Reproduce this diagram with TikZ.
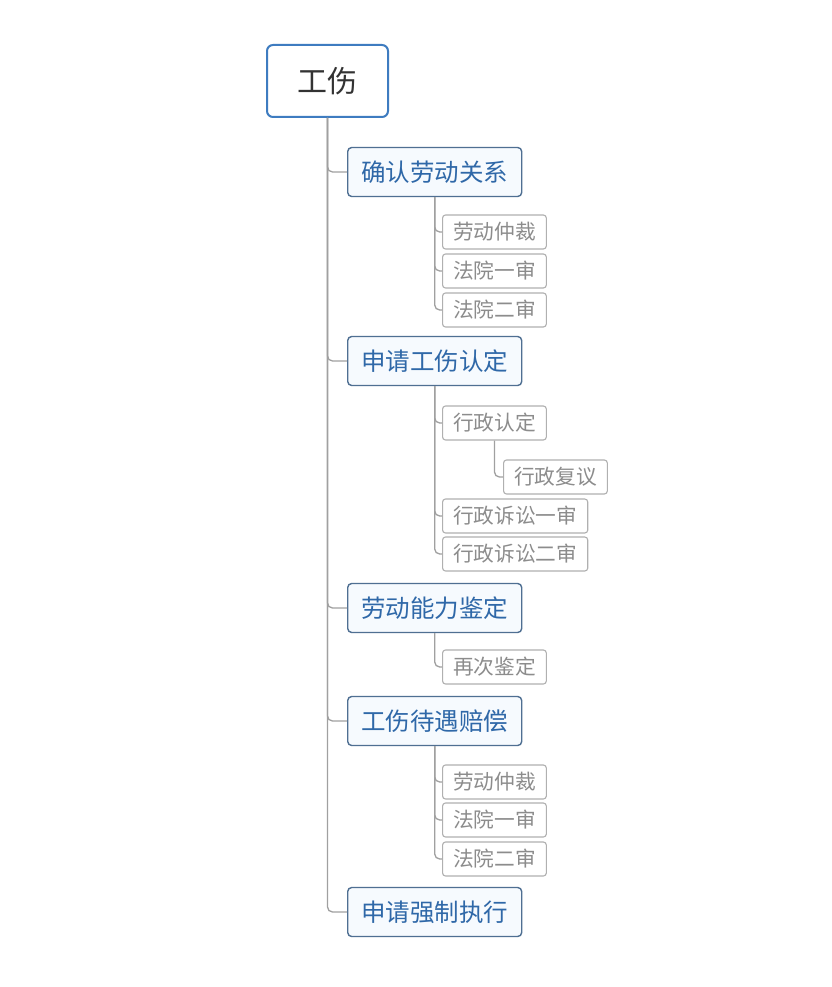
\documentclass[tikz,border=0pt]{standalone}
\usepackage{fontspec}
\setmainfont{Noto Sans CJK SC}
\usetikzlibrary{positioning}
\definecolor{RootLine}{HTML}{3E7CC0}
\definecolor{TopLine}{HTML}{4F6F92}
\definecolor{TopFill}{HTML}{F6FAFE}
\definecolor{TopText}{HTML}{2F68A8}
\definecolor{SubLine}{HTML}{B0B0B0}
\definecolor{SubText}{HTML}{8C8C8C}
\definecolor{Wire}{HTML}{A0A0A0}

\begin{document}
\begin{tikzpicture}[x=1pt,y=-1pt, root/.style={draw=RootLine,line width=2pt,fill=white,rounded corners=6pt,minimum width=121pt,minimum height=72pt,font=\fontsize{30}{30}\selectfont,text=black!80}, topic/.style={draw=TopLine,line width=1.4pt,fill=TopFill,rounded corners=4pt,minimum width=174pt,minimum height=49pt,anchor=west,font=\fontsize{24.5}{24.5}\selectfont,text=TopText}, sub/.style={draw=SubLine,line width=1.1pt,fill=white,rounded corners=3pt,inner xsep=10.5pt,minimum height=34pt,anchor=west,font=\fontsize{20.7}{20.7}\selectfont,text=SubText}, link/.style={draw=Wire,line width=1.3pt,rounded corners=5pt}]
\fill[white] (0,0) rectangle (831,987);
\useasboundingbox (0,0) rectangle (831,987);
\node[root] (R) at (327.5,81) {工伤};
\node[topic] (A) at (347,172) {确认劳动关系};
\node[topic] (B) at (347,361) {申请工伤认定};
\node[topic] (C) at (347,608) {劳动能力鉴定};
\node[topic] (D) at (347,721) {工伤待遇赔偿};
\node[topic] (E) at (347,912) {申请强制执行};
\node[sub] (A1) at (442,232) {劳动仲裁};
\node[sub] (A2) at (442,271) {法院一审};
\node[sub] (A3) at (442,310) {法院二审};
\node[sub] (B1) at (442,423) {行政认定};
\node[sub] (B11) at (503,477) {行政复议};
\node[sub] (B2) at (442,516) {行政诉讼一审};
\node[sub] (B3) at (442,554) {行政诉讼二审};
\node[sub] (C1) at (442,667) {再次鉴定};
\node[sub] (D1) at (442,782) {劳动仲裁};
\node[sub] (D2) at (442,820) {法院一审};
\node[sub] (D3) at (442,859) {法院二审};
\foreach \k in {A,B,C,D,E}
  \draw[link] (R.south) |- (\k.west);
\foreach \k in {A1,A2,A3}
  \draw[link] (A.south) |- (\k.west);
\foreach \k in {B1,B2,B3}
  \draw[link] (B.south) |- (\k.west);
\draw[link] (B1.south) |- (B11.west);
\draw[link] (C.south) |- (C1.west);
\foreach \k in {D1,D2,D3}
  \draw[link] (D.south) |- (\k.west);
\end{tikzpicture}
\end{document}
